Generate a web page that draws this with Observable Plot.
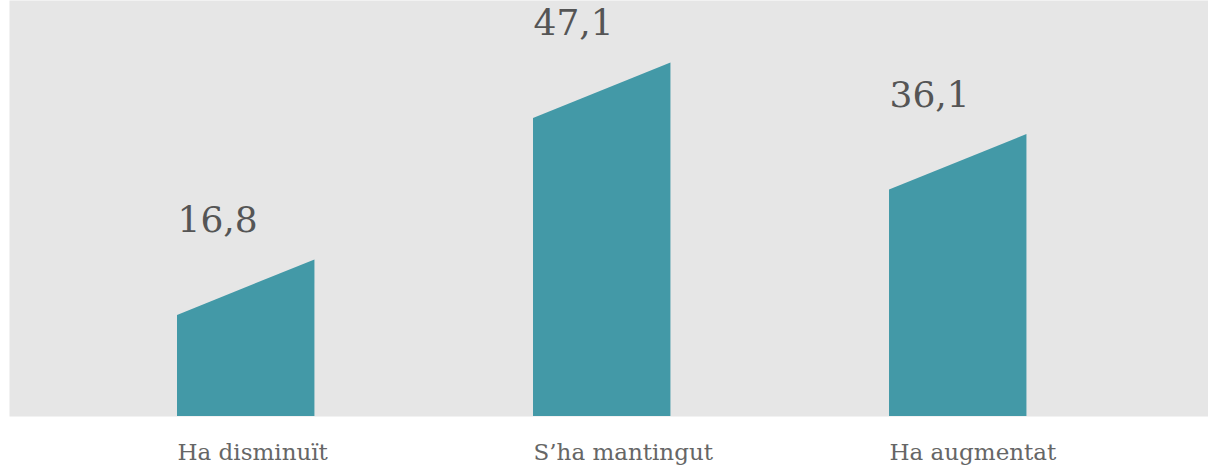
<!DOCTYPE html>
<html>
<head>
<meta charset="utf-8">
<script src="https://cdn.jsdelivr.net/npm/d3@7"></script>
<script src="https://cdn.jsdelivr.net/npm/@observablehq/plot@0.6"></script>
<style>
  html, body { margin: 0; padding: 0; background: #fff; }
  #chart svg { display: block; }
</style>
</head>
<body>
<div id="chart"></div>
<script>
const categories = ["Ha disminuït", "S’ha mantingut", "Ha augmentat"];
const values = [16.8, 47.1, 36.1];

const yMin = 1.26;        // baseline value of the value axis
const barWidth = 0.386;   // in category-step units
const slant = 8.55;       // rise of the slanted top, in value units
const labelOffset = 12.8; // value label position above the bar value

const shape = categories.flatMap((c, i) => [
  {cat: c, x: i, y: values[i]},
  {cat: c, x: i + barWidth, y: values[i] + slant}
]);
const labels = categories.map((c, i) => ({cat: c, i, v: values[i]}));

const chart = Plot.plot({
  width: 1208,
  height: 465,
  marginLeft: 9,
  marginRight: 0,
  marginTop: 0,
  marginBottom: 49,
  x: {type: "linear", domain: [-0.4719, 2.896], axis: null},
  y: {type: "linear", domain: [yMin, yMin + 416 / 6.5], axis: null},
  style: {fontFamily: "DejaVu Serif", background: "#fff"},
  marks: [
    Plot.frame({fill: "#e6e6e6", stroke: null}),
    Plot.areaY(shape, {x: "x", y1: yMin, y2: "y", z: "cat", fill: "#4399a7", curve: "linear"}),
    Plot.text(labels, {
      x: "i", y: d => d.v + labelOffset,
      text: d => String(d.v).replace(".", ","),
      textAnchor: "start", lineAnchor: "bottom",
      fontSize: 36, fill: "#555", fontWeight: 300
    }),
    Plot.text(labels, {
      x: "i", frameAnchor: "bottom", dy: 43,
      text: "cat",
      textAnchor: "start", lineAnchor: "bottom",
      fontSize: 23, fill: "#666", fontWeight: 300
    })
  ]
});
document.getElementById("chart").appendChild(chart);
</script>
</body>
</html>
